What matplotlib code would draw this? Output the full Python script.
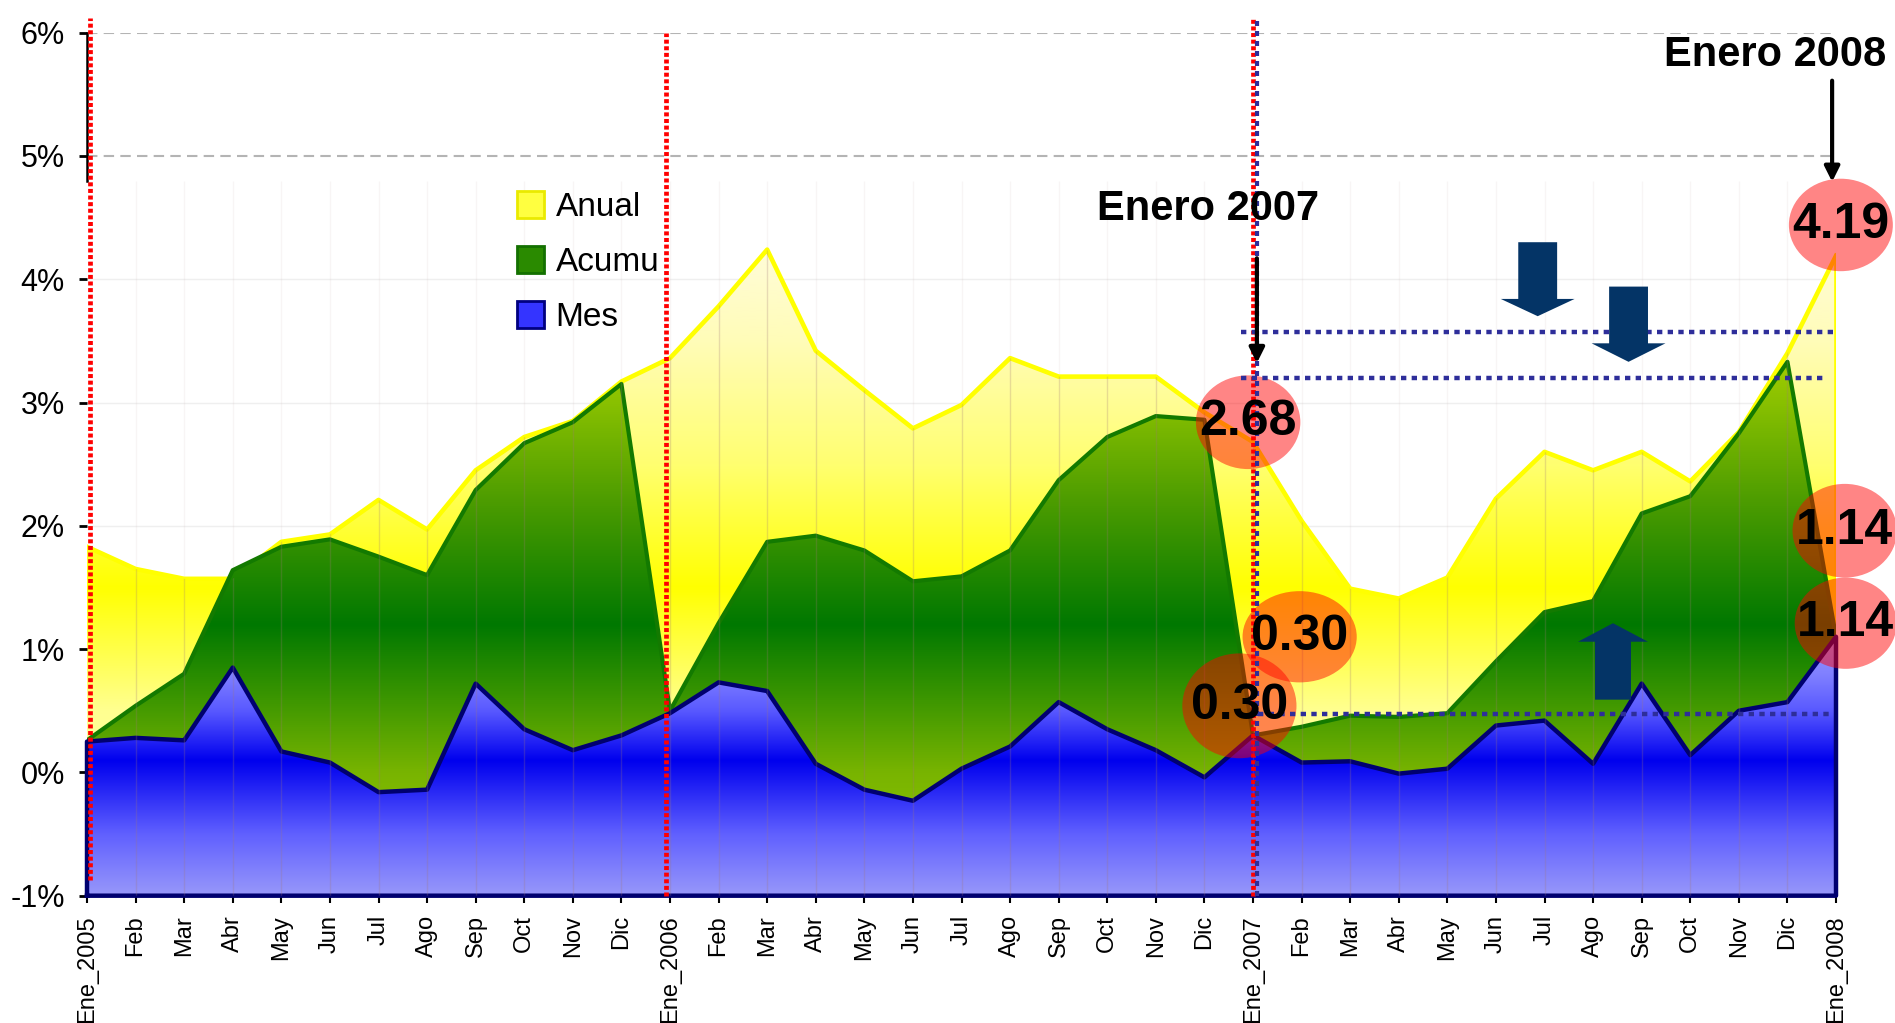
import numpy as np
import matplotlib
matplotlib.use('Agg')
import matplotlib.pyplot as plt
from matplotlib.colors import LinearSegmentedColormap
from matplotlib.patches import Polygon, Ellipse, Patch
from matplotlib import font_manager as fm

# ---------------- data ----------------
months = ['Feb', 'Mar', 'Abr', 'May', 'Jun', 'Jul', 'Ago', 'Sep', 'Oct', 'Nov', 'Dic']
x_labels = ['Ene_2005'] + months + ['Ene_2006'] + months + ['Ene_2007'] + months + ['Ene_2008']

anual = [1.83, 1.65, 1.57, 1.57, 1.87, 1.93, 2.21, 1.97, 2.45, 2.72, 2.85, 3.17,
         3.36, 3.78, 4.24, 3.42, 3.10, 2.79, 2.98, 3.36, 3.21, 3.21, 3.21, 2.92,
         2.68, 2.04, 1.49, 1.41, 1.58, 2.22, 2.60, 2.45, 2.60, 2.36, 2.76, 3.40, 4.19]
acumu = [0.26, 0.54, 0.80, 1.64, 1.83, 1.89, 1.75, 1.60, 2.29, 2.67, 2.84, 3.15,
         0.50, 1.21, 1.87, 1.92, 1.80, 1.55, 1.59, 1.80, 2.37, 2.72, 2.89, 2.86,
         0.30, 0.37, 0.46, 0.45, 0.48, 0.90, 1.30, 1.39, 2.10, 2.24, 2.75, 3.33, 1.10]
mes = [0.25, 0.28, 0.26, 0.85, 0.17, 0.08, -0.16, -0.14, 0.72, 0.35, 0.18, 0.30,
       0.48, 0.73, 0.66, 0.07, -0.14, -0.23, 0.03, 0.21, 0.57, 0.35, 0.18, -0.04,
       0.30, 0.08, 0.09, -0.01, 0.03, 0.38, 0.42, 0.07, 0.72, 0.14, 0.50, 0.57, 1.10]
series_names = ['Anual', 'Acumu', 'Mes']

y_ticks = [-1, 0, 1, 2, 3, 4, 5, 6]
y_tick_labels = [f'{v}%' for v in y_ticks]

# annotation values (bubbles)
bubble_text = ['2.68', '0.30', '0.30', '4.19', '1.14', '1.14']
bubble_x = [23.9, 24.96, 23.72, 36.1, 36.18, 36.2]
bubble_y = [2.84, 1.10, 0.54, 4.44, 1.96, 1.21]
bubble_w = [2.15, 2.35, 2.35, 2.14, 2.15, 2.1]
bubble_h = [0.76, 0.74, 0.85, 0.75, 0.76, 0.74]

# ---------------- style ----------------
base_font = 'Liberation Sans'
names = {f.name for f in fm.fontManager.ttflist}
has_narrow = 'Liberation Sans Narrow' in names
legend_font = 'Liberation Sans Narrow' if has_narrow else base_font
legend_size = 26 if has_narrow else 24
plt.rcParams['font.family'] = [base_font, 'DejaVu Sans']

W, H = 1895, 1023
fig = plt.figure(figsize=(W / 100, H / 100), dpi=100)
left_px, right_px, top_px, bot_px = 87, 1836, 32.6, 895.7
ax = fig.add_axes([left_px / W, 1 - bot_px / H, (right_px - left_px) / W, (bot_px - top_px) / H])

x = np.arange(len(x_labels))
YMIN, YMAX = -1, 6

# gradient stops (data-y, colour)
yellow_stops = [(-1, '#ffffc0'), (0.5, '#ffff90'), (1.5, '#ffff00'), (2.5, '#ffff70'),
                (3.5, '#fffcb8'), (4.24, '#fffcd8')]
green_stops = [(-1, '#98cc00'), (0.0, '#78b400'), (1.2, '#007800'), (2.2, '#4c9c00'),
               (3.0, '#88c000'), (3.33, '#a0cc00')]
blue_stops = [(-1, '#9898fa'), (-0.5, '#6060ff'), (0.1, '#0000ee'), (0.5, '#5858ff'),
              (0.8, '#8080ff'), (1.1, '#9898ff')]


def gradient_area(vals, stops, z, line_color, lw, outline_all=False):
    vals = np.asarray(vals)
    top = max(vals.max(), stops[-1][0])
    lo = YMIN
    cmap = LinearSegmentedColormap.from_list(
        'g', [((v - lo) / (top - lo), c) for v, c in stops])
    xs = np.concatenate([[x[0]], x, [x[-1]]])
    ys = np.concatenate([[lo], vals, [lo]])
    poly = Polygon(np.column_stack([xs, ys]), closed=True, facecolor='none',
                   edgecolor='none', transform=ax.transData)
    ax.add_patch(poly)
    im = ax.imshow(np.linspace(0, 1, 512).reshape(-1, 1), extent=[x[0], x[-1], lo, top],
                   origin='lower', aspect='auto', cmap=cmap, zorder=z, interpolation='bilinear')
    im.set_clip_path(poly)
    if outline_all:
        ax.plot(np.append(xs, xs[0]), np.append(ys, ys[0]), color=line_color, lw=lw,
                zorder=z + 0.1, solid_joinstyle='round', clip_on=False)
    else:
        ax.plot(x, vals, color=line_color, lw=lw, zorder=z + 0.1, solid_joinstyle='round')
        ax.plot([x[-1], x[-1]], [vals[-1], lo], color=line_color, lw=lw * 0.8, zorder=z + 0.1)
    return poly


# faint horizontal gridlines
for v in [1, 2, 3, 4]:
    ax.axhline(v, color='#efefef', lw=1, zorder=0.5)
for v in [5, 6]:
    ax.axhline(v, color='#b4b4b4', lw=1.5, ls=(0, (5, 3)), zorder=0.5)

# very faint month stripes in the empty area
ax.vlines(x[1:-1], YMIN, 4.8, color='#c8b0b0', alpha=0.12, lw=1, zorder=0.6)

yellow_poly = gradient_area(anual, yellow_stops, 1, '#ffff00', 3.3)
gradient_area(acumu, green_stops, 2, '#137a00', 3.0)
gradient_area(mes, blue_stops, 3, '#000070', 3.2, outline_all=True)

# month lines over the filled areas
vl = ax.vlines(x[1:-1], YMIN, 4.8, color='#a07878', alpha=0.25, lw=1, zorder=3.8)
vl.set_clip_path(yellow_poly)

ax.set_xlim(0, 36)
ax.set_ylim(YMIN, YMAX)

# left axis stub
ax.plot([0, 0], [4.8, 6], color='black', lw=1.8, zorder=4, clip_on=False)

# red dotted separators
red_x = [0.07, 11.92, 24.0]
red_top = [6.12, 6.0, 6.12]
red_bot = [-0.87, -1, -1]
for rx, rt, rb in zip(red_x, red_top, red_bot):
    ax.plot([rx, rx], [rb, rt], color='#ff0000', lw=3.4, ls=(0, (0.85, 0.55)),
            zorder=5.5, clip_on=False)
# blue dotted guides
dot_col = '#2e2e9a'
ax.plot([24.08, 24.08], [-1, 6.12], color=dot_col, lw=3.0, ls=(0, (1.2, 1.2)),
        zorder=5.6, clip_on=False)
hl_y = [3.57, 3.20, 0.475]
hl_x0 = [23.76, 23.76, 24.1]
hl_x1 = [35.97, 35.78, 35.9]
for hy, a, b in zip(hl_y, hl_x0, hl_x1):
    ax.plot([a, b], [hy, hy], color=dot_col, lw=3.2, ls=(0, (1.2, 1.2)), zorder=5.6)

# bubbles
for t, bx, by, bw, bh in zip(bubble_text, bubble_x, bubble_y, bubble_w, bubble_h):
    ax.add_patch(Ellipse((bx, by), bw, bh, facecolor=(1, 0, 0, 0.48), edgecolor='none',
                         zorder=5, clip_on=False))
    ax.text(bx, by, t, ha='center', va='center', fontsize=36, fontweight='bold',
            color='black', zorder=7, clip_on=False)

# black arrows + titles
arrow_props = dict(arrowstyle='-|>,head_length=0.9,head_width=0.45', color='black',
                   lw=3, shrinkA=0, shrinkB=0)
ax.annotate('', xy=(24.08, 3.32), xytext=(24.08, 4.17), arrowprops=arrow_props,
            zorder=7, annotation_clip=False)
ax.annotate('', xy=(35.92, 4.79), xytext=(35.92, 5.61), arrowprops=arrow_props,
            zorder=7, annotation_clip=False)
ax.text(23.07, 4.57, 'Enero 2007', ha='center', va='center', fontsize=30,
        fontweight='bold', zorder=7)
ax.text(34.75, 5.82, 'Enero 2008', ha='center', va='center', fontsize=30,
        fontweight='bold', zorder=7, clip_on=False)


# navy block arrows
def block_arrow(xc, y_tail, y_base, y_tip, shaft_hw, head_hw):
    verts = [(xc - shaft_hw, y_tail), (xc + shaft_hw, y_tail), (xc + shaft_hw, y_base),
             (xc + head_hw, y_base), (xc, y_tip), (xc - head_hw, y_base),
             (xc - shaft_hw, y_base)]
    ax.add_patch(Polygon(verts, closed=True, facecolor='#043466', edgecolor='none', zorder=6))


block_arrow(29.86, 4.30, 3.84, 3.70, 0.40, 0.76)
block_arrow(31.73, 3.94, 3.48, 3.33, 0.40, 0.76)
block_arrow(31.41, 0.59, 1.06, 1.21, 0.37, 0.72)

# ticks
ax.set_xticks(x)
ax.set_xticklabels(x_labels, rotation=90, fontsize=17)
ax.set_yticks(y_ticks)
ax.set_yticklabels(y_tick_labels, fontsize=22)
ax.tick_params(axis='x', length=5, width=1.5, pad=9, color='black')
ax.tick_params(axis='y', length=6, width=2, pad=10, color='black')
for s in ax.spines.values():
    s.set_visible(False)
ax.set_facecolor('white')

# legend
handles = [Patch(facecolor='#ffff40', edgecolor='#eaea00', lw=2),
           Patch(facecolor='#2a8a00', edgecolor='#137000', lw=2),
           Patch(facecolor='#3434ff', edgecolor='#000080', lw=2)]
ax.legend(handles, series_names, loc='upper left', bbox_to_anchor=(517 / W, 1 - 191 / H),
          bbox_transform=fig.transFigure, frameon=False,
          prop={'family': legend_font, 'size': legend_size}, handlelength=0.8,
          handleheight=0.85, handletextpad=0.36, labelspacing=0.70, borderpad=0,
          borderaxespad=0)

fig.savefig('out.png', dpi=100, facecolor='white')
